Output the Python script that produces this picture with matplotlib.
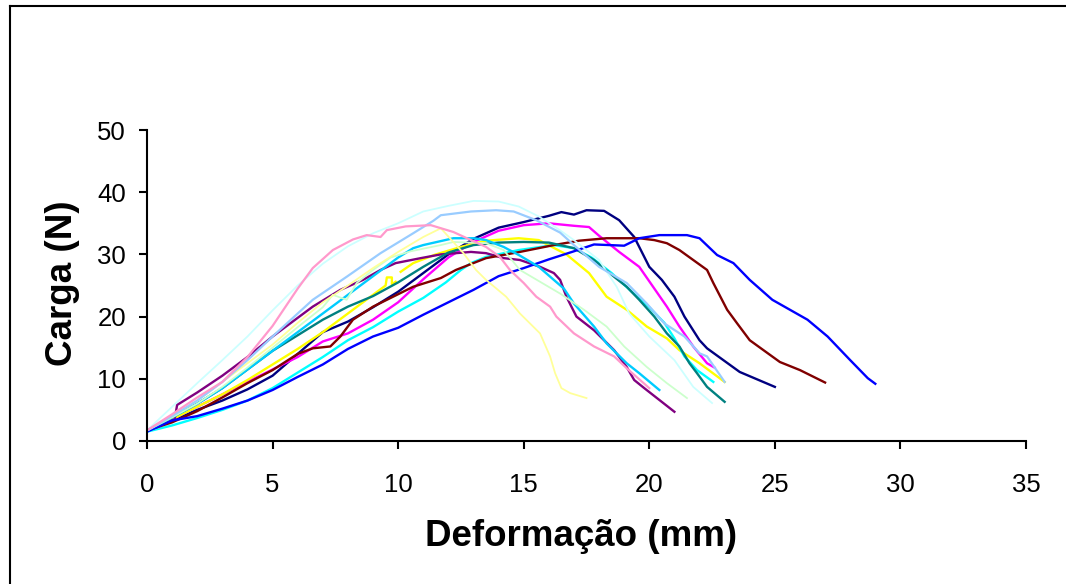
import numpy as np
import matplotlib
matplotlib.use("Agg")
import matplotlib.pyplot as plt
from matplotlib.lines import Line2D

plt.rcParams['font.family'] = ['Liberation Sans', 'DejaVu Sans']

nan = float('nan')

# Series data (Deformação mm, Carga N)
navy_x = [0, 1, 2, 3, 4, 5, 6, 7, 8, 9, 10, 11, 12, 13, 14, 15, 16, 16.5, 17, 17.5, 18.2, 18.8, 19.4, 20, 20.5, 21, 21.4, 22, 22.3, 22.95, 23.6, 24.3, 25]
navy_y = [1.7, 3.3, 5, 6.5, 8.3, 10.5, 14, 17.5, 19.2, 21.5, 24, 27, 30, 32.5, 34.3, 35.2, 36.2, 36.8, 36.4, 37.1, 37, 35.5, 32.8, 28, 25.9, 23.2, 20, 16.2, 14.9, 13, 11.1, 9.9, 8.7]

magenta_x = [0, 1, 2, 3, 4, 5, 6, 7, 8, 9, 10, 11, 12, 13, 14, 15, 16, 17, 17.6, 18, 18.8, 19.6, 20.15, 20.7, 21.2, 21.75, 22.3, 22.6]
magenta_y = [1.7, 3.5, 5.5, 7.5, 9.5, 11.5, 13.5, 16, 17.3, 19.5, 22.3, 26, 29.5, 32, 33.8, 34.7, 35, 34.6, 34.4, 33, 30.4, 28, 24.8, 21.6, 18.4, 15.2, 12.5, 11.8]

yellow_x = [0, 1, 2, 3, 4, 5, 6, 7, 8, 9, 9.5, 9.55, 9.75, 9.75, 9.9, nan, 10.1, 10.6, 11.5, 12.5, 13.5, 14.8, 15.6, 16.7, 17.6, 18.3, 19.1, 19.9, 20.7, 21.2, 22, 23]
yellow_y = [1.7, 3.5, 5.5, 7.5, 9.8, 12.3, 14.8, 17.5, 20.5, 23.5, 25, 26.3, 26.3, 25.2, 25.6, nan, 27.2, 28.6, 30, 31.2, 32.2, 32.6, 32.3, 30, 27, 23.2, 21.1, 18.4, 16.5, 14.6, 12.5, 9.5]

cyan_x = [0, 1, 2, 3, 4, 5, 6, 7, 8, 9, 10, 11, 11.9, 12.5, 12.9, 13.5, 14.8, 16.2, 17, 17.7, 18.5, 19.3, 20, 20.6, 21, 21.4, 21.9, 22.55]
cyan_y = [1.5, 2.5, 3.7, 5, 6.5, 8.5, 11, 13.5, 16.2, 18.3, 20.8, 23, 25.5, 27.5, 28.6, 29.6, 30.7, 31.5, 31, 29.5, 27, 24, 21.5, 19, 16.5, 13.6, 11.4, 9.5]

purple_x = [0, 1.1, 1.2, 2, 3, 4, 5, 6, 6.6, 7.7, 8.6, 9.3, 9.9, 10.9, 11.7, 12.9, 13.5, 14.2, 14.85, 15.65, 16.2, 16.45, 16.7, 17.1, 17.8, 18.6, 19.1, 19.4, 19.8, 20.4, 21]
purple_y = [1.7, 3.5, 5.8, 7.8, 10.5, 13.5, 16.8, 19.8, 21.6, 24.3, 25.9, 27.5, 28.6, 29.4, 30, 30.4, 30.2, 29.4, 29.1, 28, 27, 25.9, 23.2, 20, 17.8, 14.6, 11.9, 9.8, 8.5, 6.6, 4.7]

maroon_x = [0, 1, 2, 3, 4, 5, 6, 6.6, 7.3, 7.7, 8.2, 9, 9.8, 10.6, 11.7, 12.3, 13.5, 14.85, 16.2, 17.2, 18.3, 19.6, 20.2, 20.7, 21.2, 21.75, 22.3, 22.55, 23.1, 23.5, 24, 25.2, 26, 27]
maroon_y = [1.7, 3, 4.8, 7, 9.3, 11.4, 14, 14.9, 15.2, 16.8, 19.5, 21.6, 23.2, 24.8, 26.2, 27.5, 29.4, 30.4, 31.5, 32.2, 32.6, 32.6, 32.3, 31.8, 30.7, 29.1, 27.5, 25.4, 21.1, 18.9, 16.2, 12.7, 11.4, 9.4]

teal_x = [0, 1, 2, 3, 4, 5, 6, 7, 8, 9, 10, 11, 12, 13, 14, 15, 16, 17, 17.8, 18.6, 19.1, 19.6, 20.2, 20.7, 21.2, 21.6, 21.9, 22.3, 23]
teal_y = [1.7, 3.8, 6, 8.5, 11.5, 14.5, 17, 19.5, 21.6, 23.3, 25.5, 28, 30.3, 31.5, 31.9, 32, 31.9, 31, 29.1, 26.4, 24.8, 22.7, 20, 17.3, 15.2, 12.5, 10.9, 8.7, 6.3]

blue_x = [0, 1, 2, 3, 4, 5, 6, 7, 8, 9, 10, 11, 12, 13, 14, 15, 16, 17, 17.8, 19, 19.6, 20.4, 21.5, 22, 22.7, 23.35, 24, 24.9, 26.3, 27.1, 28, 28.7, 29]
blue_y = [1.5, 3.3, 4, 5.2, 6.5, 8.2, 10.3, 12.3, 14.8, 16.8, 18.2, 20.3, 22.3, 24.3, 26.5, 27.8, 29.2, 30.5, 31.6, 31.4, 32.6, 33.1, 33.1, 32.6, 29.9, 28.6, 25.9, 22.7, 19.5, 16.8, 13, 10.1, 9.2]

skyblue_x = [0, 1, 2, 3, 4, 5, 6, 7, 8, 9, 10, 10.6, 11, 12.2, 13, 13.5, 14.2, 14.85, 15.6, 16.2, 16.6, 17, 17.8, 18.3, 19.1, 19.6, 20.4]
skyblue_y = [1.7, 3.8, 6, 8.5, 11.5, 14.5, 17.5, 20.5, 23.5, 26.5, 29.5, 31, 31.5, 32.6, 32.6, 32.3, 31.2, 29.8, 28, 25.9, 24.5, 22.1, 18.4, 15.7, 12.5, 10.9, 8.2]

lturq_x = [0, 1, 2, 3, 4, 5, 6, 7, 8, 9, 10, 11, 12, 13, 14, 14.8, 15.6, 16.4, 17, 18, 18.7, 19.2, 20, 21, 21.75, 22.5]
lturq_y = [1.7, 5.5, 9.3, 13, 16.8, 21, 25, 28.5, 31.3, 33.4, 35, 36.9, 37.8, 38.6, 38.5, 37.7, 36.1, 34, 32.3, 29.1, 24.8, 20.5, 16.8, 13, 8.7, 6.1]

lgreen_x = [0, 1, 2, 3, 4, 5, 6, 7, 7.4, 7.95, 8.35, 9, 9.7, 10.5, 11.7, 12.2, 13.5, 14.2, 14.85, 15.65, 16.45, 17.4, 18.3, 19, 19.9, 20.7, 21.5]
lgreen_y = [1.7, 3.8, 6, 8.7, 11.8, 15, 18.3, 21.5, 23.5, 22.7, 25.4, 27.5, 29.5, 30.5, 31.5, 32, 31.8, 30.7, 27.5, 25.6, 23.7, 21.1, 18.4, 15.2, 11.9, 9.3, 6.9]

lyellow_x = [0, 1, 2, 3, 4, 5, 6, 7, 8, 9, 10, 11, 11.7, 12.6, 13.1, 13.5, 14.3, 14.85, 15.65, 16.05, 16.25, 16.5, 16.85, 17.5]
lyellow_y = [1.7, 4, 6.5, 9.5, 12.5, 15.5, 19, 22.3, 25, 27.8, 30.4, 32.8, 34.2, 30.2, 27.5, 25.9, 23.2, 20.5, 17.3, 13.6, 10.9, 8.5, 7.7, 6.9]

paleblue_x = [0, 1, 2, 3, 4, 5, 6, 6.6, 7.95, 9.3, 10.6, 11.4, 11.7, 12.9, 13.9, 14.6, 15.5, 16.45, 17, 18, 19.1, 19.9, 20.6, 21.4, 22, 22.3, 23]
paleblue_y = [1.7, 4, 6.5, 9.5, 13, 16.8, 20.5, 22.7, 26.4, 30.2, 33.4, 35.4, 36.3, 36.9, 37.1, 36.9, 35.5, 33.5, 31.5, 28, 25.4, 22.1, 18.9, 16.8, 14.1, 13.6, 9.5]

pink_x = [0, 1, 2, 3, 4, 5, 5.5, 6, 6.6, 7.4, 8.2, 8.75, 9.3, 9.55, 10.3, 11.3, 12.2, 12.9, 13.5, 14.05, 14.45, 15, 15.5, 16.05, 16.3, 17, 17.8, 18.6, 19.1, 20]
pink_y = [1.7, 4.3, 7, 9.5, 13.5, 18.5, 21.5, 24.5, 27.8, 30.7, 32.4, 33.1, 32.8, 33.9, 34.5, 34.7, 33.6, 32.3, 31.2, 29.6, 27.5, 25.4, 23.2, 21.6, 20, 17.3, 15.2, 13.6, 11.7, 8.5]

series = [
    (navy_x, navy_y, '#000080', 1.7),
    (magenta_x, magenta_y, '#FF00FF', 1.7),
    (yellow_x, yellow_y, '#FFFF00', 1.7),
    (cyan_x, cyan_y, '#00FFFF', 1.7),
    (purple_x, purple_y, '#800080', 1.7),
    (maroon_x, maroon_y, '#800000', 1.7),
    (teal_x, teal_y, '#008080', 1.7),
    (blue_x, blue_y, '#0000FF', 1.7),
    (skyblue_x, skyblue_y, '#00CCFF', 1.7),
    (lturq_x, lturq_y, '#CCFFFF', 1.3),
    (lgreen_x, lgreen_y, '#CCFFCC', 1.3),
    (lyellow_x, lyellow_y, '#FFFF99', 1.3),
    (paleblue_x, paleblue_y, '#99CCFF', 1.6),
    (pink_x, pink_y, '#FF99CC', 1.6),
]

x_ticks = [0, 5, 10, 15, 20, 25, 30, 35]
y_ticks = [0, 10, 20, 30, 40, 50]

fig = plt.figure(figsize=(10.66, 5.84), dpi=100)
ax = fig.add_axes([147/1066, 1-441/584, 879/1066, 311/584])

for xs, ys, c, w in series:
    ax.plot(xs, ys, color=c, lw=w, solid_joinstyle='round')

ax.set_xlim(0, 35)
ax.set_ylim(0, 50)
ax.set_xticks(x_ticks)
ax.set_yticks(y_ticks)
for s in ['top', 'right']:
    ax.spines[s].set_visible(False)
for s in ['left', 'bottom']:
    ax.spines[s].set_linewidth(1.5)
ax.tick_params(axis='both', direction='out', length=6, width=1.5, labelsize=18.5)
ax.tick_params(axis='x', pad=17)
ax.tick_params(axis='y', pad=9)

ax.set_xlabel('Deformação (mm)', fontsize=26.5, fontweight='bold')
ax.set_ylabel('Carga (N)', fontsize=26.5, fontweight='bold')
ax.xaxis.set_label_coords(434/879, -96/311)
ax.xaxis.label.set_va('center')
ax.yaxis.set_label_coords(-85/879, 158/311)
ax.yaxis.label.set_va('center')
ax.yaxis.label.set_ha('center')

# outer frame (left and top edges visible)
fig.add_artist(Line2D([10/1066, 10/1066], [0, 1-6/584], transform=fig.transFigure, color='black', lw=1.5))
fig.add_artist(Line2D([10/1066, 1], [1-6/584, 1-6/584], transform=fig.transFigure, color='black', lw=1.5))

fig.savefig('out.png', dpi=100)
